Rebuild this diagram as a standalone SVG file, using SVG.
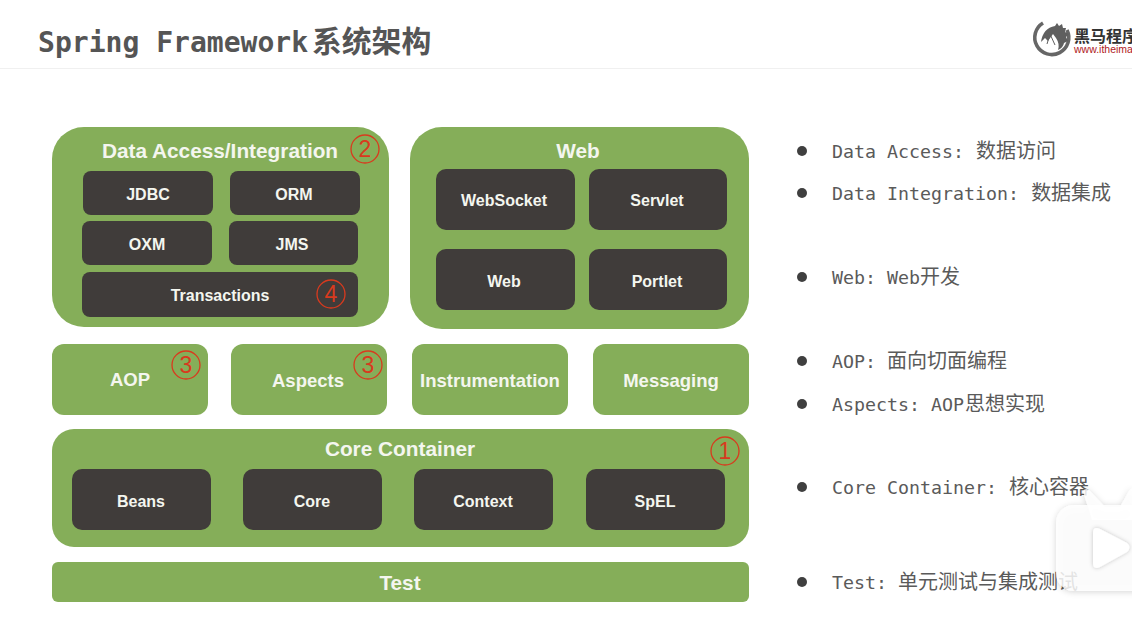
<svg xmlns="http://www.w3.org/2000/svg" width="1132" height="630" viewBox="0 0 1132 630">
<style>
.g{fill:#85ae59}
.d{fill:#403c3a}
.t{font-family:"Liberation Sans",Arial,sans-serif;font-weight:700;fill:#f4f6ef;text-anchor:middle}
.s{font-size:16px}
.m{font-size:18.5px}
.l{font-size:20.8px}
.c{fill:none;stroke:#d93a1e;stroke-width:1.3}
.n{font-family:"Liberation Sans",Arial,sans-serif;font-size:23px;fill:#d93a1e;text-anchor:middle}
.b{fill:#3f3f3f}
.r{font-family:"DejaVu Sans Mono","Noto Sans CJK SC",monospace;font-size:18.3px;fill:#5a5a5a}
.r tspan{font-family:"Noto Sans CJK SC",sans-serif;font-size:20px}
</style>
<defs>
<filter id="sh" x="-30%" y="-30%" width="160%" height="160%"><feDropShadow dx="0" dy="1" stdDeviation="3" flood-color="#000" flood-opacity=".2"/></filter>
<filter id="sh2" x="-30%" y="-30%" width="160%" height="160%"><feDropShadow dx="0" dy="0" stdDeviation="2" flood-color="#000" flood-opacity=".22"/></filter>
</defs>
<rect width="1132" height="630" fill="#fff"/>
<rect y="68" width="1132" height="1" fill="#f0f0f0"/>
<g id="title"><text x="38" y="52" font-family="'DejaVu Sans Mono','Noto Sans CJK SC',monospace" font-size="28" font-weight="700" fill="#555" textLength="270" lengthAdjust="spacingAndGlyphs">Spring Framework</text><text x="312" y="52" font-family="'Noto Sans CJK SC',sans-serif" font-size="29.8" font-weight="700" fill="#555">系统架构</text></g>
<g id="logo">
<path d="M1043 23 A17 17 0 1 0 1067 30" fill="none" stroke="#666" stroke-width="3.6"/>
<path d="M1041 42 Q1043 28 1055 26 L1057 23 L1059 26 L1062 24 L1063 28 L1066 28 L1065 32 L1069 34 L1066 37 L1068 41 L1064 43 Q1063 48 1058 50 Q1060 44 1056 38 L1053 34 L1048 41 L1045 38 Q1042 41 1041 42Z" fill="#5f5f5f"/>
<path d="M1050 34 L1047 44 M1050 34 L1055 45" stroke="#5f5f5f" stroke-width="1" fill="none"/>
<text x="1074" y="41.5" font-family="'Noto Sans CJK SC',sans-serif" font-size="16" font-weight="700" fill="#333">黑马程序</text>
<text x="1074" y="53" font-family="'Liberation Sans',sans-serif" font-size="10.5" fill="#b0201c">www.itheima</text>
</g>
<g id="data-access">
<rect class="g" x="52" y="127" width="337" height="200" rx="32"/>
<text class="t l" x="220" y="158">Data Access/Integration</text>
<rect class="d" x="83" y="171" width="130" height="44" rx="8"/><text class="t s" x="148" y="200">JDBC</text>
<rect class="d" x="230" y="171" width="130" height="44" rx="8"/><text class="t s" x="294" y="200">ORM</text>
<rect class="d" x="82" y="221" width="130" height="44" rx="8"/><text class="t s" x="147" y="250">OXM</text>
<rect class="d" x="229" y="221" width="129" height="44" rx="8"/><text class="t s" x="292" y="250">JMS</text>
<rect class="d" x="82" y="272" width="276" height="45" rx="8"/><text class="t s" x="220" y="301">Transactions</text>
<circle class="c" cx="365" cy="149" r="14"/><text class="n" x="365" y="157">2</text>
<circle class="c" cx="331" cy="294" r="14"/><text class="n" x="331" y="302">4</text>
</g>
<g id="web">
<rect class="g" x="410" y="127" width="339" height="202" rx="32"/>
<text class="t l" x="578" y="158">Web</text>
<rect class="d" x="436" y="169" width="139" height="61" rx="10"/><text class="t s" x="504" y="206">WebSocket</text>
<rect class="d" x="589" y="169" width="138" height="61" rx="10"/><text class="t s" x="657" y="206">Servlet</text>
<rect class="d" x="436" y="249" width="139" height="61" rx="10"/><text class="t s" x="504" y="287">Web</text>
<rect class="d" x="589" y="249" width="138" height="61" rx="10"/><text class="t s" x="657" y="287">Portlet</text>
</g>
<g id="aop"><rect class="g" x="52" y="344" width="156" height="71" rx="12"/><text class="t m" x="130" y="386">AOP</text><circle class="c" cx="186" cy="365" r="14"/><text class="n" x="186" y="373">3</text></g>
<g id="aspects"><rect class="g" x="231" y="344" width="156" height="71" rx="12"/><text class="t m" x="308" y="387">Aspects</text><circle class="c" cx="368" cy="365" r="14"/><text class="n" x="368" y="373">3</text></g>
<g id="instrumentation"><rect class="g" x="412" y="344" width="156" height="71" rx="12"/><text class="t m" x="490" y="387">Instrumentation</text></g>
<g id="messaging"><rect class="g" x="593" y="344" width="156" height="71" rx="12"/><text class="t m" x="671" y="387">Messaging</text></g>
<g id="core-container">
<rect class="g" x="52" y="429" width="697" height="118" rx="22"/>
<text class="t l" x="400" y="456">Core Container</text>
<rect class="d" x="72" y="469" width="139" height="61" rx="10"/><text class="t s" x="141" y="507">Beans</text>
<rect class="d" x="243" y="469" width="139" height="61" rx="10"/><text class="t s" x="312" y="507">Core</text>
<rect class="d" x="414" y="469" width="139" height="61" rx="10"/><text class="t s" x="483" y="507">Context</text>
<rect class="d" x="586" y="469" width="139" height="61" rx="10"/><text class="t s" x="655" y="507">SpEL</text>
<circle class="c" cx="725" cy="451" r="14"/><text class="n" x="725" y="459">1</text>
</g>
<g id="test"><rect class="g" x="52" y="562" width="697" height="40" rx="6"/><text class="t l" x="400" y="590">Test</text></g>
<g id="notes">
<circle class="b" cx="802" cy="151" r="5"/><text class="r" x="832" y="158">Data Access: <tspan dx="1">数据访问</tspan></text>
<circle class="b" cx="802" cy="193" r="5"/><text class="r" x="832" y="200">Data Integration: <tspan dx="1">数据集成</tspan></text>
<circle class="b" cx="802" cy="277" r="5"/><text class="r" x="832" y="284">Web: Web<tspan>开发</tspan></text>
<circle class="b" cx="802" cy="361" r="5"/><text class="r" x="832" y="368">AOP: <tspan>面向切面编程</tspan></text>
<circle class="b" cx="802" cy="404" r="5"/><text class="r" x="832" y="411">Aspects: AOP<tspan dx="1">思想实现</tspan></text>
<circle class="b" cx="802" cy="487" r="5"/><text class="r" x="832" y="494">Core Container: <tspan dx="1">核心容器</tspan></text>
<circle class="b" cx="802" cy="582" r="5"/><text class="r" x="832" y="589">Test: <tspan>单元测试与集成测试</tspan></text>
</g>
<g id="watermark">
<g filter="url(#sh)" fill="#fff" fill-opacity=".82">
<path d="M1083 491 Q1086 487 1090 491 L1105 507 L1120 507 L1129 491 Q1131 488 1132 489 L1132 520 L1092 520Z"/>
<rect x="1056" y="505" width="110" height="86" rx="18"/>
</g>
<path d="M1093 533 Q1093 526 1100 529 L1127 543 Q1132 547 1127 552 L1100 567 Q1093 570 1093 563Z" fill="#fff" filter="url(#sh2)"/>
</g>
</svg>
